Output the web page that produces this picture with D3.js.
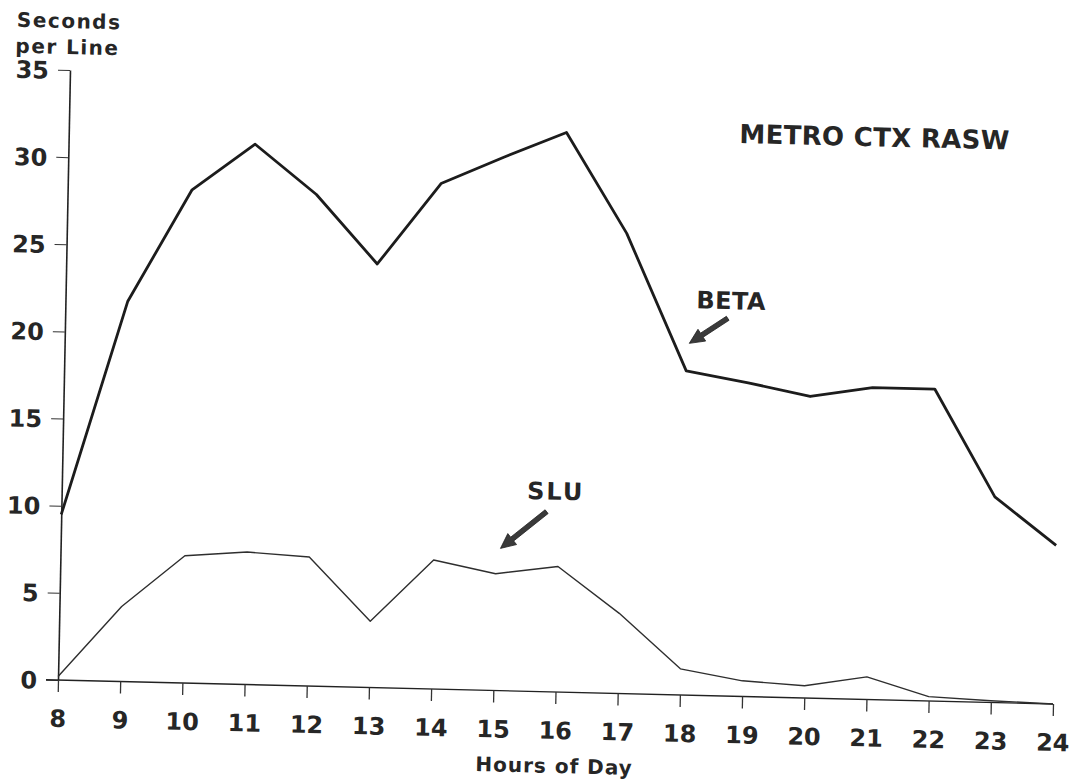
<!DOCTYPE html>
<html>
<head>
<meta charset="utf-8">
<script src="https://cdn.jsdelivr.net/npm/d3@7"></script>
<style>
  html, body { margin: 0; padding: 0; background: #ffffff; }
  svg { display: block; }
  text { font-family: "DejaVu Sans", "Liberation Sans", sans-serif; font-weight: bold; fill: #262626; }
</style>
</head>
<body>
<script>
// ---- data ----
const hours = [8, 9, 10, 11, 12, 13, 14, 15, 16, 17, 18, 19, 20, 21, 22, 23, 24];
const betaValues = [9.5, 21.8, 28.3, 31.0, 28.2, 24.3, 29.0, 30.6, 32.1, 26.4, 18.6, 18.0, 17.3, 17.9, 17.9, 11.8, 9.1];
const sluValues = [0.2, 4.3, 7.3, 7.6, 7.4, 3.8, 7.4, 6.7, 7.2, 4.6, 1.5, 0.9, 0.7, 1.3, 0.25, 0.1, 0.0];
const yTicks = [0, 5, 10, 15, 20, 25, 30, 35];
const xTickLabels = ["8","9","10","11","12","13","14","15","16","17","18","19","20","21","22","23","24"];
const yTitleLines = ["Seconds", "per Line"];
const xTitle = "Hours of Day";
const chartTitle = "METRO CTX RASW";
// annotations: [label, labelHour, labelValue, arrowTailHour, arrowTailValue, arrowTipHour, arrowTipValue]
const annotations = [
  ["BETA", 18.14, 22.2, 18.65, 21.67, 18.04, 20.18],
  ["SLU", 15.48, 11.03, 15.80, 10.33, 15.07, 8.16]
];

(function () {
// ---- layout ----
const W = 1079, H = 781;
const pLeft = 58, pRight = 1053, pTop = 70, pBottom = 680;
// the scanned page is slightly skewed
const skewX = -12 / 610, skewY = 24 / 995;

const svg = d3.select("body").append("svg").attr("width", W).attr("height", H);
svg.append("rect").attr("width", W).attr("height", H).attr("fill", "#fff");

const g = svg.append("g")
  .attr("transform", `matrix(1,${skewY},${skewX},1,${-skewX * pBottom},${-skewY * pLeft})`);

const x = d3.scaleLinear().domain([8, 24]).range([pLeft, pRight]);
const y = d3.scaleLinear().domain([0, 35]).range([pBottom, pTop]);

// ---- axes ----
const yAxis = d3.axisLeft(y).tickValues(yTicks).tickSize(12).tickSizeOuter(0).tickFormat(d3.format("d"));
const yG = g.append("g").attr("transform", `translate(${pLeft},0)`).call(yAxis);
yG.select(".domain").attr("stroke", "#222").attr("stroke-width", 1.6);
yG.selectAll(".tick line").attr("stroke", "#333").attr("stroke-width", 1);
yG.selectAll(".tick text")
  .attr("x", -21).attr("dy", "0.36em")
  .style("font-family", "DejaVu Sans").style("font-weight", "bold")
  .style("font-size", "24px").attr("fill", "#262626");

const xAxis = d3.axisBottom(x).tickValues(hours).tickSize(12).tickSizeOuter(0)
  .tickFormat((d, i) => xTickLabels[i]);
const xG = g.append("g").attr("transform", `translate(0,${pBottom})`).call(xAxis);
xG.select(".domain").attr("stroke", "#222").attr("stroke-width", 1.4)
  .attr("d", `M${pLeft - 12},0H${pRight}`);
xG.selectAll(".tick line").attr("stroke", "#333").attr("stroke-width", 1.3);
xG.selectAll(".tick text")
  .attr("y", 47).attr("dy", 0)
  .style("font-family", "DejaVu Sans").style("font-weight", "bold")
  .style("font-size", "24px").attr("fill", "#262626");

// ---- titles ----
const yTitle = g.append("text")
  .attr("x", 4).attr("y", 28)
  .style("font-size", "20px").style("letter-spacing", "1.5px");
yTitle.selectAll("tspan").data(yTitleLines).join("tspan")
  .attr("x", (d, i) => i === 0 ? 4 : 3)
  .attr("dy", (d, i) => i === 0 ? 0 : 26)
  .text(d => d);

g.append("text")
  .attr("x", x(16)).attr("y", 761)
  .attr("text-anchor", "middle")
  .style("font-size", "20px").style("letter-spacing", "1px")
  .text(xTitle);

g.append("text")
  .attr("x", x(18.78)).attr("y", y(31.74))
  .style("font-size", "26px").style("letter-spacing", "0.3px")
  .text(chartTitle);

// ---- series ----
const line = d3.line().x((d, i) => x(hours[i])).y(d => y(d));

g.append("path").datum(sluValues)
  .attr("fill", "none").attr("stroke", "#2e2e2e").attr("stroke-width", 1.4)
  .attr("stroke-linejoin", "round").attr("d", line);

g.append("path").datum(betaValues)
  .attr("fill", "none").attr("stroke", "#1c1c1c").attr("stroke-width", 2.8)
  .attr("stroke-linejoin", "round").attr("d", line);

// ---- annotations ----
annotations.forEach(a => {
  const [label, lh, lv, th, tv, ph, pv] = a;
  g.append("text").attr("x", x(lh)).attr("y", y(lv))
    .style("font-size", "24px").style("letter-spacing", label === "SLU" ? "2px" : "0.5px")
    .text(label);
  const x0 = x(th), y0 = y(tv), x1 = x(ph), y1 = y(pv);
  const ang = Math.atan2(y1 - y0, x1 - x0);
  const headLen = 15, headW = 7, shaft = 2.4;
  const bx = x1 - headLen * Math.cos(ang), by = y1 - headLen * Math.sin(ang);
  const nx = -Math.sin(ang), ny = Math.cos(ang);
  const pts = [
    [x0 + nx * shaft, y0 + ny * shaft],
    [bx + nx * shaft, by + ny * shaft],
    [bx + nx * headW, by + ny * headW],
    [x1, y1],
    [bx - nx * headW, by - ny * headW],
    [bx - nx * shaft, by - ny * shaft],
    [x0 - nx * shaft, y0 - ny * shaft]
  ];
  g.append("path")
    .attr("d", d3.line()(pts) + "Z")
    .attr("fill", "#3a3a3a").attr("stroke", "#222").attr("stroke-width", 0.8);
});
})();
</script>
</body>
</html>
